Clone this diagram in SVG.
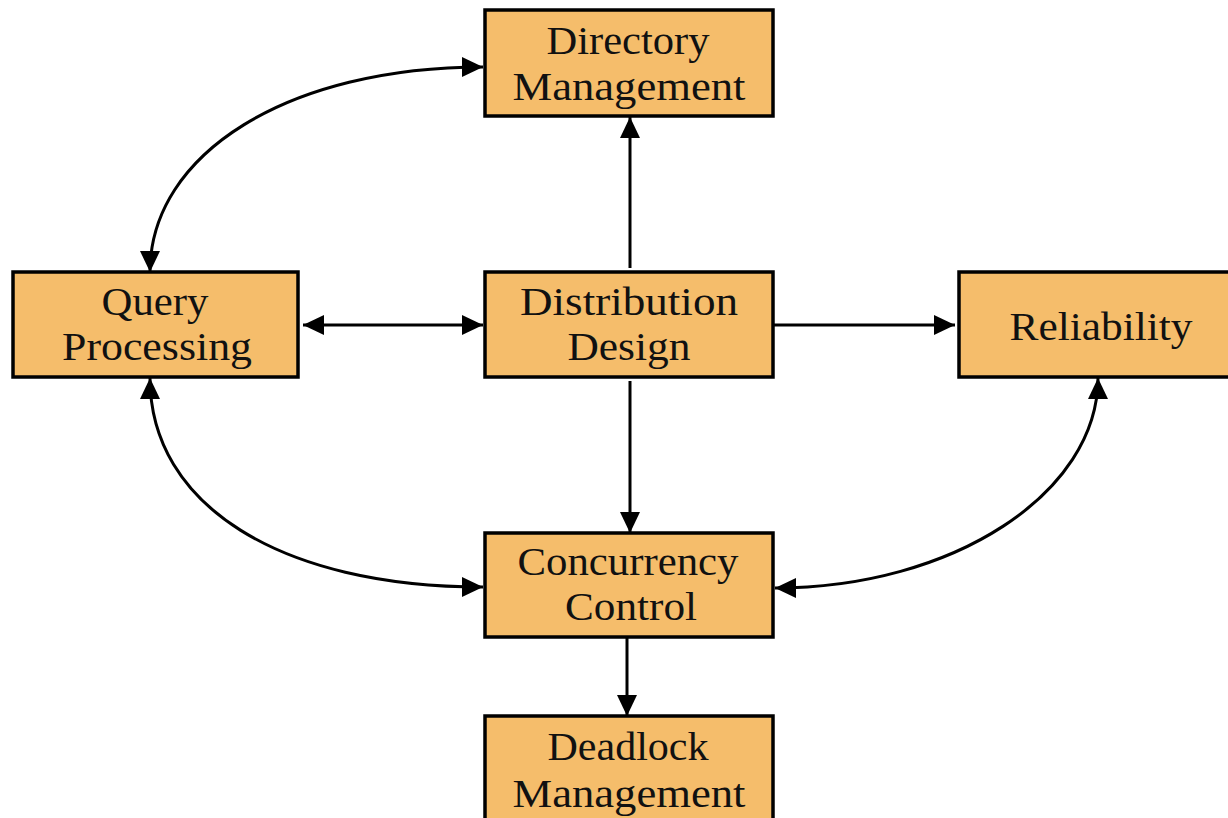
<svg xmlns="http://www.w3.org/2000/svg" width="1228" height="818" viewBox="0 0 1228 818">
<style>
.box{fill:#F5BD6B;stroke:#000;stroke-width:3.5}
.lbl{font-family:"Liberation Serif","Times New Roman",serif;font-size:40px;fill:#111;text-anchor:middle}
.con{fill:none;stroke:#000;stroke-width:3}
</style>
<defs>
<marker id="ah" markerUnits="userSpaceOnUse" markerWidth="23" markerHeight="23" viewBox="0 0 23 23" refX="22" refY="11.5" orient="auto-start-reverse">
<path d="M1,1.5 L22,11.5 L1,21.5 Z" fill="#000"/>
</marker>
</defs>
<rect width="1228" height="818" fill="#fff"/>
<g id="connectors">
<path class="con" d="M630,268 L630,117" marker-end="url(#ah)"/>
<path class="con" d="M303,325 L483,325" marker-start="url(#ah)" marker-end="url(#ah)"/>
<path class="con" d="M773,325 L955,325" marker-end="url(#ah)"/>
<path class="con" d="M630,381 L630,533" marker-end="url(#ah)"/>
<path class="con" d="M627,637 L627,716" marker-end="url(#ah)"/>
<path class="con" d="M483,67 C289,67 150,153 150,272" marker-start="url(#ah)" marker-end="url(#ah)"/>
<path class="con" d="M150,378 C150,505 280,587 483,587" marker-start="url(#ah)" marker-end="url(#ah)"/>
<path class="con" d="M1098,378 C1098,493 953,588 775,588" marker-start="url(#ah)" marker-end="url(#ah)"/>
</g>
<g id="directory">
<rect class="box" x="485" y="10" width="288" height="106"/>
<text class="lbl" x="628" y="54" textLength="163" lengthAdjust="spacingAndGlyphs">Directory</text>
<text class="lbl" x="629" y="100" textLength="233" lengthAdjust="spacingAndGlyphs">Management</text>
</g>
<g id="query">
<rect class="box" x="13" y="272" width="285" height="105"/>
<text class="lbl" x="155" y="315" textLength="107" lengthAdjust="spacingAndGlyphs">Query</text>
<text class="lbl" x="157" y="360" textLength="190" lengthAdjust="spacingAndGlyphs">Processing</text>
</g>
<g id="distribution">
<rect class="box" x="485" y="272" width="288" height="105"/>
<text class="lbl" x="629" y="315" textLength="218" lengthAdjust="spacingAndGlyphs">Distribution</text>
<text class="lbl" x="629" y="360" textLength="123" lengthAdjust="spacingAndGlyphs">Design</text>
</g>
<g id="reliability">
<rect class="box" x="959" y="272" width="290" height="105"/>
<text class="lbl" x="1101" y="340" textLength="183" lengthAdjust="spacingAndGlyphs">Reliability</text>
</g>
<g id="concurrency">
<rect class="box" x="485" y="533" width="288" height="104"/>
<text class="lbl" x="628" y="575" textLength="221" lengthAdjust="spacingAndGlyphs">Concurrency</text>
<text class="lbl" x="631" y="620" textLength="132" lengthAdjust="spacingAndGlyphs">Control</text>
</g>
<g id="deadlock">
<rect class="box" x="485" y="716" width="288" height="120"/>
<text class="lbl" x="628" y="760" textLength="161" lengthAdjust="spacingAndGlyphs">Deadlock</text>
<text class="lbl" x="629" y="807" textLength="233" lengthAdjust="spacingAndGlyphs">Management</text>
</g>
</svg>
